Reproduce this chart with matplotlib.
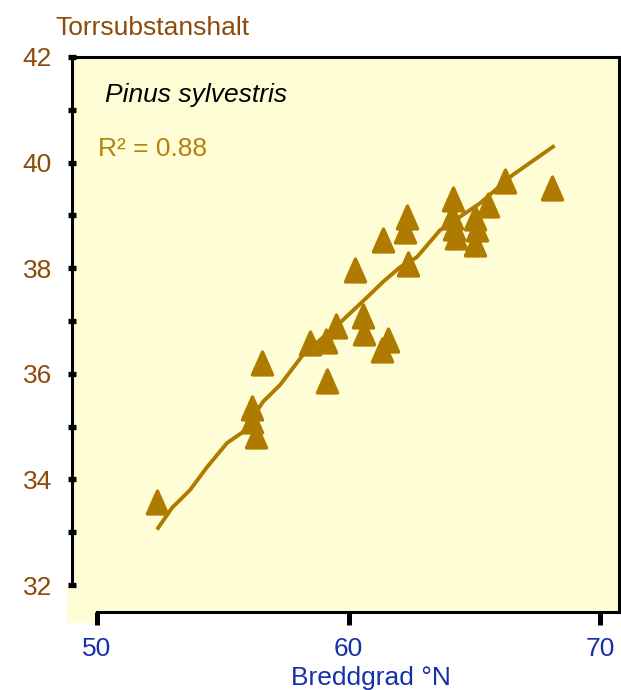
import matplotlib
matplotlib.use("Agg")
import matplotlib.pyplot as plt
from matplotlib.path import Path
from matplotlib.markers import MarkerStyle
from matplotlib.patches import Rectangle

# Latitude (°N) and dry matter content
lat = [52.39, 56.56, 56.16, 56.16, 56.32, 58.47, 59.11, 59.50, 59.14, 60.26,
       60.58, 60.62, 61.57, 61.33, 61.37, 62.33, 62.25, 62.37, 64.15, 64.11,
       64.19, 64.27, 65.03, 65.11, 65.03, 65.55, 66.22, 68.09]
dm = [33.57, 36.20, 35.35, 35.11, 34.82, 36.58, 36.62, 36.91, 35.86, 37.97,
      37.09, 36.77, 36.64, 36.45, 38.53, 38.97, 38.70, 38.08, 39.31, 38.97,
      38.76, 38.59, 38.95, 38.74, 38.46, 39.20, 39.65, 39.52]

# fitted curve
fit_lat = [52.43, 52.98, 53.70, 54.37, 55.17, 55.81, 56.60, 57.28, 58.19,
           59.78, 60.74, 61.37, 62.05, 62.72, 63.64, 65.23, 66.54, 68.13]
fit_dm = [33.08, 33.46, 33.80, 34.23, 34.69, 34.90, 35.47, 35.79, 36.36,
          37.02, 37.45, 37.74, 38.02, 38.21, 38.72, 39.23, 39.77, 40.30]

x_ticks = [50, 60, 70]
y_ticks = [32, 34, 36, 38, 40, 42]
y_minor = [33, 35, 37, 39, 41]

plt.rcParams['font.family'] = ['Liberation Sans', 'DejaVu Sans']

gold = '#AE7A00'
brown = '#8C4B0A'
blue = '#1630A8'
bg = '#FFFDD6'

W, H = 621, 690
fig = plt.figure(figsize=(W / 100, H / 100), dpi=100)
# little yellow patch under the corner where the spines stop
fig.add_artist(Rectangle((67 / W, 1 - 623 / H), 30 / W, 37 / H,
                         transform=fig.transFigure, facecolor=bg,
                         edgecolor='none', zorder=0))
ax = fig.add_axes([72 / W, 1 - 612 / H, 547 / W, 555 / H])
ax.set_facecolor(bg)

ax.plot(fit_lat, fit_dm, color=gold, lw=2.8, solid_joinstyle='round', zorder=2)

tri = MarkerStyle(Path([(0, 1), (-0.88, -1), (0.88, -1), (0, 1)],
                       [Path.MOVETO, Path.LINETO, Path.LINETO, Path.CLOSEPOLY]),
                  joinstyle='round')
ax.plot(lat, dm, linestyle='none', marker=tri, ms=16.5, mfc=gold, mec=gold,
        mew=2.4, zorder=3)

ax.set_xlim(49.006, 70.755)
ax.set_ylim(31.489, 42)
ax.set_xticks(x_ticks)
ax.set_yticks(y_ticks)
ax.set_yticks(y_minor, minor=True)

ax.tick_params(axis='y', which='both', direction='inout', length=6, width=3.8,
               color='black', labelcolor=brown, labelsize=19, pad=11.5)
ax.tick_params(axis='x', which='both', direction='out', length=9, width=3.6,
               color='black', labelcolor=blue, labelsize=19, pad=9)

for s in ax.spines.values():
    s.set_linewidth(2.2)
ax.spines['left'].set_bounds(32, 42)
ax.spines['bottom'].set_bounds(50, 70.755)

ax.text(0.0603, 0.919, 'Pinus sylvestris', transform=ax.transAxes,
        fontsize=19, style='italic', color='black', va='baseline')
ax.text(0.0475, 0.8216, 'R² = 0.88', transform=ax.transAxes,
        fontsize=19, color='#B5820E', va='baseline')

fig.text(55 / W, 1 - 35 / H, 'Torrsubstanshalt', fontsize=19, color=brown,
         va='baseline', ha='left')
fig.text(371 / W, 1 - 685 / H, 'Breddgrad °N', fontsize=19, color=blue,
         va='baseline', ha='center')

fig.savefig('out.png', dpi=100, facecolor='white')
